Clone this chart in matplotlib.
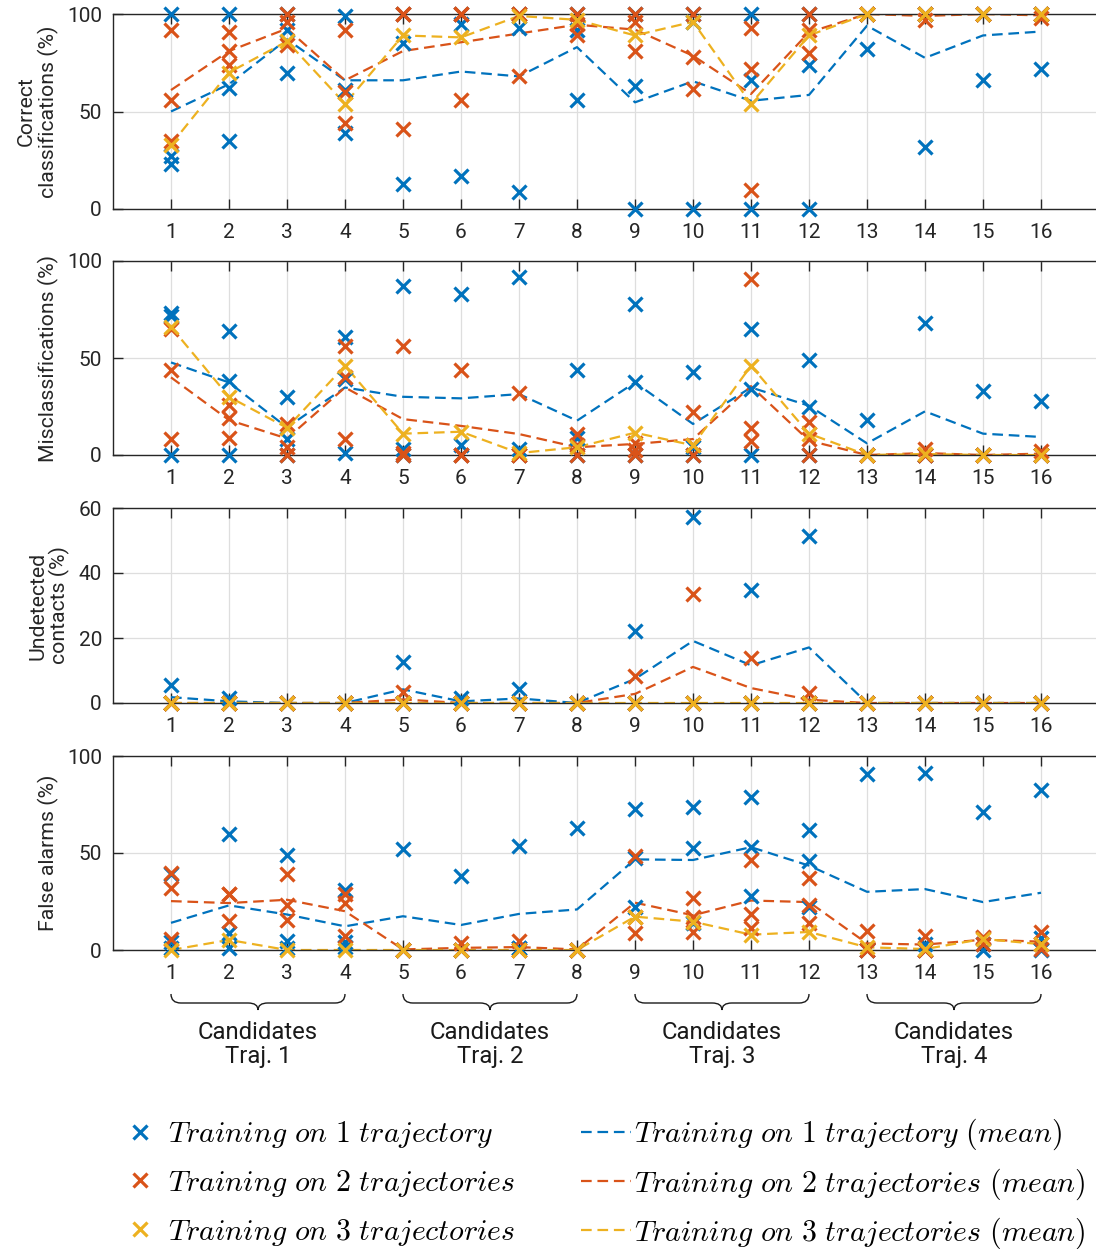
import matplotlib
matplotlib.use("Agg")
import matplotlib.pyplot as plt
from matplotlib.lines import Line2D
from matplotlib.path import Path
from matplotlib.patches import PathPatch
import matplotlib.transforms as mtransforms

plt.rcParams['font.family'] = ['Roboto', 'DejaVu Sans']
plt.rcParams['mathtext.fontset'] = 'cm'

candidates = list(range(1, 17))
group_labels = ["Candidates\nTraj. 1", "Candidates\nTraj. 2", "Candidates\nTraj. 3", "Candidates\nTraj. 4"]
series_labels = [r"$Training\ on\ 1\ trajectory$",
                 r"$Training\ on\ 2\ trajectories$",
                 r"$Training\ on\ 3\ trajectories$"]
mean_labels = [r"$Training\ on\ 1\ trajectory\ (mean)$",
               r"$Training\ on\ 2\ trajectories\ (mean)$",
               r"$Training\ on\ 3\ trajectories\ (mean)$"]
colors = ["#0072BD", "#D95319", "#EDB120"]

# ---- Correct classifications (%) ----
correct_1 = [[100, 27, 23], [100, 62, 35], [100, 92, 70], [99, 61, 39],
             [100, 85, 13], [100, 95, 17], [100, 93, 8.5], [100, 92, 56],
             [100, 63, 0], [100, 96, 0], [100, 66, 0], [100, 74, 0],
             [100, 100, 82], [100, 100, 32], [100, 100, 66], [100, 100, 72]]
correct_2 = [[92, 56, 35], [91, 81, 74], [100, 96, 84], [92, 60, 44],
             [100, 100, 41], [100, 100, 56], [100, 100, 68], [100, 95, 89],
             [100, 96, 81], [100, 78, 61.5], [93, 72, 9.5], [100, 92, 80],
             [100, 100, 100], [100, 100, 97], [100, 100, 100], [100, 100, 98]]
correct_3 = [33, 70, 86, 54, 89, 88, 99, 97, 89, 96, 54, 89, 100, 100, 100, 100]
correct_mean_1 = [50, 64, 87, 66, 66, 70.5, 68, 83, 54.7, 65.5, 55.5, 58.5, 94, 77.5, 89, 91]
correct_mean_2 = [61, 81, 92.5, 66, 81, 85.5, 90, 94.5, 92, 78.6, 59, 90.6, 100, 99, 100, 99.3]

# ---- Misclassifications (%) ----
miscl_1 = [[0, 73, 71.5], [0, 38, 64], [0, 8, 30], [1, 39, 61],
           [0, 3, 87], [0, 5, 83], [0, 3, 91.5], [0, 9, 44],
           [0, 37.5, 78], [0, 4, 43], [0, 34, 65], [0, 25, 49],
           [0, 0, 18], [0, 0, 68], [0, 0, 33], [0, 0, 28]]
miscl_2 = [[8, 44, 65], [9, 19, 26], [0, 4, 16], [8, 40, 56],
           [0, 1, 56], [0, 0, 44], [0, 0, 32], [0, 5, 11],
           [0, 2.6, 6], [0, 22, 5], [7, 14, 90.5], [0, 8, 17],
           [0, 0, 0], [0, 0, 3], [0, 0, 0], [0, 0, 2]]
miscl_3 = [66, 30, 14, 46, 11, 12, 1, 4, 11.5, 5, 46, 11, 0, 0.5, 0, 0]
miscl_mean_1 = [47.7, 37.4, 14.2, 34.8, 30, 29.2, 31.4, 17.7, 37.4, 16, 34.8, 25.4, 6, 22.5, 11, 9.3]
miscl_mean_2 = [40, 18, 8.5, 34.8, 18.5, 15, 10.8, 4, 5.7, 8.2, 35.5, 7.4, 0, 1, 0, 0.7]

# ---- Undetected contacts (%) ----
undet_1 = [[0, 0, 5.5], [0, 0, 1.5], [0, 0, 0], [0, 0, 0],
           [0, 0, 12.5], [0, 0, 1.5], [0, 0, 4.3], [0, 0, 0],
           [0, 0, 22.3], [0, 0, 57.3], [0, 0, 34.9], [0, 0, 51.3],
           [0, 0, 0], [0, 0, 0], [0, 0, 0], [0, 0, 0]]
undet_2 = [[0, 0, 0], [0, 0, 0], [0, 0, 0], [0, 0, 0],
           [0, 0, 3.3], [0, 0, 0], [0, 0, 0], [0, 0, 0],
           [0, 0, 8.4], [0, 0, 33.4], [0, 0, 13.9], [0, 0, 3],
           [0, 0, 0], [0, 0, 0], [0, 0, 0], [0, 0, 0]]
undet_3 = [0] * 16
undet_mean_1 = [1.8, 0.5, 0, 0, 4.2, 0.5, 1.4, 0, 7.4, 19.1, 11.6, 17.1, 0, 0, 0, 0]
undet_mean_2 = [0, 0, 0, 0, 1.1, 0, 0, 0, 2.8, 11.1, 4.6, 1, 0, 0, 0, 0]

# ---- False alarms (%) ----
false_1 = [[39, 4.3, 0.9], [59.8, 8.6, 0.9], [49, 4.8, 1], [31, 4, 1.5],
           [52.2, 0, 0], [37.9, 0, 0], [53.6, 1, 1], [62.9, 0, 0],
           [72.7, 47.4, 22.3], [73.9, 52.4, 13.7], [78.8, 53.1, 27.6], [62.1, 45.7, 22.1],
           [90.7, 0, 0], [91, 3, 0], [71.2, 3, 0], [82.6, 6, 0]]
false_2 = [[39.5, 32, 5.7], [29, 29, 15], [39, 23.4, 15.5], [29, 24, 7.4],
           [0, 0, 0], [3.4, 0, 0], [4.5, 0, 0], [0, 0, 0],
           [48.6, 17, 8.6], [27, 17.2, 9.4], [46.4, 18.6, 11.4], [37.2, 23.1, 14],
           [10, 0, 0], [7.4, 0, 0], [6.9, 6, 3], [9.5, 3.1, 0.5]]
false_3 = [0, 5.2, 0, 0, 0, 0, 0, 0, 17.2, 14.6, 7.9, 9.3, 1.4, 0.5, 5.7, 3]
false_mean_1 = [14, 23, 18.3, 12.2, 17.4, 12.9, 18.6, 20.9, 46.7, 46.4, 53, 43.5, 30, 31.4, 24.7, 29.5]
false_mean_2 = [25.2, 24.2, 25.9, 20, 0.3, 1.1, 1.5, 0.3, 24.4, 17.9, 25.5, 24.7, 3.4, 2.8, 5.3, 4.3]

panels = [
    ("Correct\nclassifications (%)", 100, [0, 50, 100],
     correct_1, correct_2, correct_3, correct_mean_1, correct_mean_2),
    ("Misclassifications (%)", 100, [0, 50, 100],
     miscl_1, miscl_2, miscl_3, miscl_mean_1, miscl_mean_2),
    ("Undetected\ncontacts (%)", 60, [0, 20, 40, 60],
     undet_1, undet_2, undet_3, undet_mean_1, undet_mean_2),
    ("False alarms (%)", 100, [0, 50, 100],
     false_1, false_2, false_3, false_mean_1, false_mean_2),
]

W, H = 1096, 1249
fig = plt.figure(figsize=(W / 100, H / 100), dpi=100)

# axes boxes in pixels: (top, bottom); the right edge runs past the canvas
boxes = [(14, 209), (261, 455), (508, 703), (756, 950)]
left_px, right_px = 113, 1099

mk = dict(marker='x', linestyle='none', markersize=9.5, markeredgewidth=2.3, clip_on=False)
ln = dict(linestyle=(0, (4.8, 2.6)), linewidth=1.6)
text_col = '#262626'

axes = []
for (label, ymax, yticks, s1, s2, s3, m1, m2), (top, bot) in zip(panels, boxes):
    ax = fig.add_axes([left_px / W, 1 - bot / H, (right_px - left_px) / W, (bot - top) / H])
    axes.append(ax)
    ax.set_xlim(0, 17)
    ax.set_ylim(0, ymax)
    ax.set_xticks(candidates)
    ax.set_yticks(yticks)
    ax.grid(True, color='#dedede', linewidth=0.9)
    ax.set_axisbelow(True)
    ax.tick_params(direction='in', length=7, width=1, colors=text_col,
                   labelsize=15, top=True, right=False, pad=8)
    ax.tick_params(axis='x', pad=10)
    for side in ('top', 'left', 'bottom'):
        ax.spines[side].set_color(text_col)
        ax.spines[side].set_linewidth(1)
    ax.spines['right'].set_visible(False)
    ax.set_ylabel(label, fontsize=15.3, color=text_col, labelpad=6, linespacing=1.1)

    # mean lines
    ax.plot(candidates, m1, color=colors[0], zorder=2, **ln)
    ax.plot(candidates, m2, color=colors[1], zorder=2, **ln)
    ax.plot(candidates, s3, color=colors[2], zorder=2, **ln)

    # individual runs
    for xi, vals in zip(candidates, s1):
        ax.plot([xi] * len(vals), vals, color=colors[0], zorder=3, **mk)
    for xi, vals in zip(candidates, s2):
        ax.plot([xi] * len(vals), vals, color=colors[1], zorder=4, **mk)
    ax.plot(candidates, s3, color=colors[2], zorder=5, **mk)

# group braces under the last panel
ax = axes[-1]
trans = mtransforms.blended_transform_factory(ax.transData, ax.transAxes)
axh = boxes[-1][1] - boxes[-1][0]
def af(ypix):
    return (boxes[-1][1] - ypix) / axh

y_top, y_mid, y_tip = af(994), af(1003), af(1010)
r = 0.17
for g, glabel in enumerate(group_labels):
    x0, x1 = 1 + 4 * g, 4 + 4 * g
    xm = (x0 + x1) / 2
    verts = [(x0, y_top), (x0, y_mid), (x0 + r, y_mid),
             (xm - r, y_mid), (xm, y_mid), (xm, y_tip),
             (xm, y_mid), (xm + r, y_mid),
             (x1 - r, y_mid), (x1, y_mid), (x1, y_top)]
    codes = [Path.MOVETO, Path.CURVE3, Path.CURVE3,
             Path.LINETO, Path.CURVE3, Path.CURVE3,
             Path.CURVE3, Path.CURVE3,
             Path.LINETO, Path.CURVE3, Path.CURVE3]
    patch = PathPatch(Path(verts, codes), transform=trans, facecolor='none',
                      edgecolor='#1a1a1a', linewidth=1.0, clip_on=False)
    ax.add_patch(patch)
    ax.text(xm, af(1021), glabel, transform=trans, ha='center', va='top',
            fontsize=17.2, color='#1a1a1a', linespacing=1.05)

# legend: run markers on the left, mean lines on the right
marker_handles = [Line2D([], [], color=c, **{k: v for k, v in mk.items() if k != 'clip_on'})
                  for c in colors]
line_handles = [Line2D([], [], color=c, **ln) for c in colors]
common = dict(loc='upper left', frameon=False, prop={'size': 21.5},
              handlelength=1.67, handletextpad=0.1, borderpad=0, borderaxespad=0)
fig.legend(marker_handles, series_labels, bbox_to_anchor=(115 / W, 1 - 1119 / H),
           labelspacing=0.6, **common)
fig.legend(line_handles, mean_labels, bbox_to_anchor=(581 / W, 1 - 1117 / H),
           labelspacing=0.46, **common)

fig.savefig("out.png", dpi=100)
